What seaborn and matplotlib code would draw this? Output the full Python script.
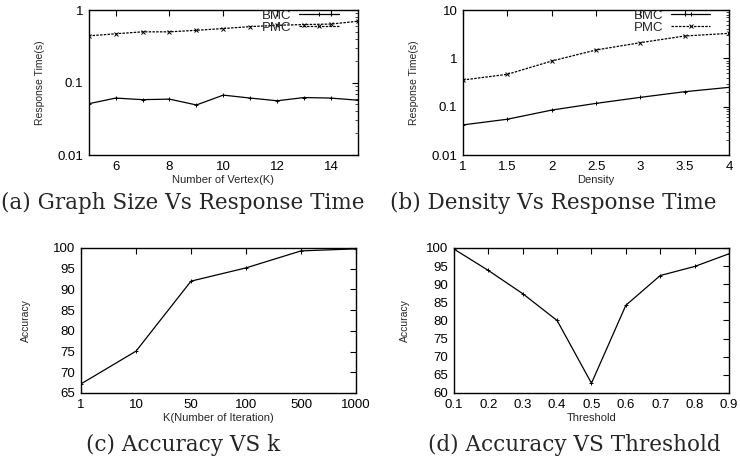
import matplotlib
matplotlib.use("Agg")
import matplotlib.pyplot as plt
import numpy as np
import pandas as pd
import seaborn as sns

# (a) graph size vs response time
vertex_k = [5, 6, 7, 8, 9, 10, 11, 12, 13, 14, 15]
bmc_size = [0.051, 0.061, 0.058, 0.059, 0.049, 0.067, 0.061, 0.056, 0.062, 0.061, 0.057]
pmc_size = [0.44, 0.47, 0.50, 0.50, 0.525, 0.555, 0.59, 0.615, 0.63, 0.64, 0.70]

# (b) density vs response time
density = [1, 1.5, 2, 2.5, 3, 3.5, 4]
bmc_density = [0.042, 0.055, 0.085, 0.117, 0.156, 0.204, 0.251]
pmc_density = [0.356, 0.467, 0.88, 1.49, 2.11, 2.9, 3.29]

# (c) accuracy vs k
k_labels = ["1", "10", "50", "100", "500", "1000"]
acc_k = [67.2, 75.1, 92.0, 95.2, 99.3, 99.8]

# (d) accuracy vs threshold
threshold = [0.1, 0.2, 0.3, 0.4, 0.5, 0.6, 0.7, 0.8, 0.9]
acc_thr = [99.7, 93.8, 87.4, 80.0, 62.7, 84.2, 92.4, 94.9, 98.4]

sns.set_style("white")
plt.rcParams['font.family'] = ['Liberation Sans', 'DejaVu Sans']
plt.rcParams['legend.numpoints'] = 1

fig = plt.figure(figsize=(7.4, 4.59), dpi=100)
ax_a = fig.add_axes([0.120, 0.6623, 0.3635, 0.3159])
ax_b = fig.add_axes([0.6257, 0.6623, 0.3595, 0.3159])
ax_c = fig.add_axes([0.1095, 0.1438, 0.3716, 0.3159])
ax_d = fig.add_axes([0.6135, 0.1438, 0.3716, 0.3159])

dash = (0, (2, 1))
mk = dict(mec="black", mfc="black", mew=0.7)


def style(ax):
    for s in ax.spines.values():
        s.set_color("black")
        s.set_linewidth(1.0)
    ax.tick_params(which="major", direction="in", length=4, width=0.8,
                   top=True, right=True, labelsize=9.5, colors="black", pad=4)
    ax.tick_params(which="minor", direction="in", length=2, width=0.6,
                   top=True, right=True)


def resp_panel(ax, x, bmc, pmc, xlabel, ylim):
    df = pd.DataFrame({"x": x + x, "t": bmc + pmc,
                       "m": ["BMC"] * len(x) + ["PMC"] * len(x)})
    sns.lineplot(data=df[df.m == "BMC"], x="x", y="t", ax=ax, color="black",
                 lw=0.9, marker="+", markersize=3, label="BMC", **mk)
    sns.lineplot(data=df[df.m == "PMC"], x="x", y="t", ax=ax, color="black",
                 lw=0.9, ls=dash, marker="x", markersize=2.5, label="PMC", **mk)
    ax.set_yscale("log")
    ax.set_ylim(*ylim)
    ax.set_xlim(x[0], x[-1])
    ax.yaxis.set_major_formatter(matplotlib.ticker.FuncFormatter(lambda v, p: f"{v:g}"))
    ax.set_xlabel(xlabel, fontsize=8, labelpad=2)
    ax.set_ylabel("Response Time(s)", fontsize=7.5, labelpad=9)
    style(ax)
    ax.legend(loc="upper right", bbox_to_anchor=(0.95, 1.04), frameon=False,
              fontsize=9.5, markerfirst=False, handlelength=3.0, numpoints=1,
              borderaxespad=0.0, labelspacing=0.0, handletextpad=0.6)


resp_panel(ax_a, vertex_k, bmc_size, pmc_size, "Number of Vertex(K)", (0.01, 1))
ax_a.set_xticks([6, 8, 10, 12, 14])
resp_panel(ax_b, density, bmc_density, pmc_density, "Density", (0.01, 10))
ax_b.set_xticks(density)
ax_b.set_xticklabels([f"{v:g}" for v in density])

# (c)
sns.lineplot(x=list(range(len(k_labels))), y=acc_k, ax=ax_c, color="black",
             lw=0.9, marker="+", markersize=2.5, **mk)
ax_c.set_xlim(0, len(k_labels) - 1)
ax_c.set_xticks(range(len(k_labels)))
ax_c.set_xticklabels(k_labels)
ax_c.set_ylim(65, 100)
ax_c.set_yticks(range(65, 101, 5))
ax_c.set_xlabel("K(Number of Iteration)", fontsize=8, labelpad=2)
ax_c.set_ylabel("Accuracy", fontsize=7.5, labelpad=16)
style(ax_c)

# (d)
sns.lineplot(x=threshold, y=acc_thr, ax=ax_d, color="black",
             lw=0.9, marker="+", markersize=2.5, **mk)
ax_d.set_xlim(0.1, 0.9)
ax_d.set_xticks(threshold)
ax_d.set_xticklabels([f"{v:g}" for v in threshold])
ax_d.set_ylim(60, 100)
ax_d.set_yticks(range(60, 101, 5))
ax_d.set_xlabel("Threshold", fontsize=8, labelpad=2)
ax_d.set_ylabel("Accuracy", fontsize=7.5, labelpad=12)
style(ax_d)

cap = dict(ha="center", va="center", fontsize=15.5, family=["DejaVu Serif"])
fig.text(183 / 740, 1 - 203 / 459, "(a) Graph Size Vs Response Time", **cap)
fig.text(553 / 740, 1 - 203 / 459, "(b) Density Vs Response Time", **cap)
fig.text(183 / 740, 1 - 445 / 459, "(c) Accuracy VS k", **cap)
fig.text(574 / 740, 1 - 445 / 459, "(d) Accuracy VS Threshold", **cap)

fig.savefig("out.png", dpi=100)
